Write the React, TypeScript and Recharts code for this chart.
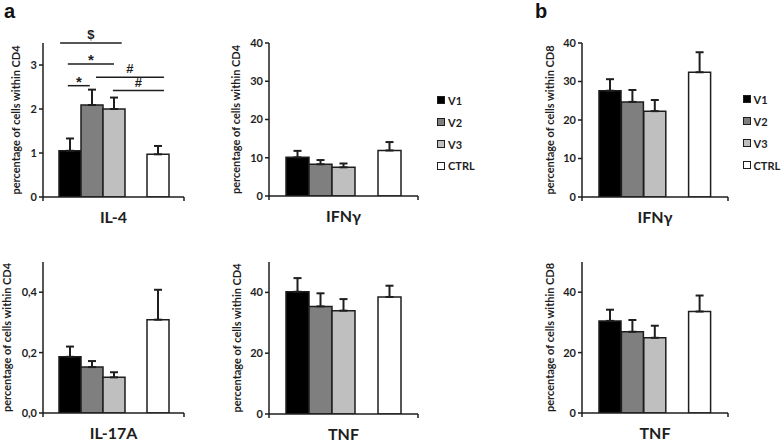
import React from "react";
import { BarChart, Bar, XAxis, YAxis, Cell, ErrorBar, ReferenceLine } from "recharts";

// ---------- data ----------
const groups = ["V1", "V2", "V3", "-", "CTRL"]; // "-" is the empty slot before CTRL
const legendGroups = ["V1", "V2", "V3", "CTRL"];

const il4Values = [1.05, 2.09, 2.0, null, 0.97];
const il4Errors = [0.28, 0.35, 0.26, null, 0.19];
const il4Ticks = [0, 1, 2, 3];

const ifngCd4Values = [10.1, 8.3, 7.5, null, 11.9];
const ifngCd4Errors = [1.7, 1.1, 1.0, null, 2.2];
const ifngTicks = [0, 10, 20, 30, 40];

const il17aValues = [0.186, 0.152, 0.118, null, 0.309];
const il17aErrors = [0.034, 0.02, 0.017, null, 0.099];
const il17aTicks = [0, 0.2, 0.4];

const tnfCd4Values = [40.2, 35.4, 34.0, null, 38.5];
const tnfCd4Errors = [4.5, 4.3, 3.8, null, 3.7];
const tnfTicks = [0, 20, 40];

const ifngCd8Values = [27.6, 24.7, 22.3, null, 32.4];
const ifngCd8Errors = [3.0, 3.1, 2.9, null, 5.2];

const tnfCd8Values = [30.5, 26.9, 24.9, null, 33.6];
const tnfCd8Errors = [3.7, 3.9, 4.0, null, 5.3];

// significance brackets for IL-4 (x in bar-slot units, y in data units)
const il4Brackets = [
  { label: "$", from: 0.05, to: 2.85, y: 3.5 },
  { label: "*", from: 0.4, to: 2.5, y: 3.02 },
  { label: "*", from: 0.4, to: 1.4, y: 2.53 },
  { label: "#", from: 1.68, to: 4.77, y: 2.72 },
  { label: "#", from: 2.45, to: 4.77, y: 2.42 },
];

// ---------- styles ----------
const groupFills: Record<string, string> = {
  V1: "#000000",
  V2: "#7f7f7f",
  V3: "#bfbfbf",
  "-": "#ffffff",
  CTRL: "#ffffff",
};
const symbolStyle: Record<string, { size: number; offset: number }> = {
  $: { size: 13, offset: 4 },
  "*": { size: 15, offset: -1 },
  "#": { size: 13, offset: 4 },
};
const INK = "#1e1e1e";
const FONT = "Lato, 'Liberation Sans', sans-serif";

type Geo = {
  boxLeft: number;
  boxTop: number;
  boxRight: number;
  boxBottom: number;
  axisX: number;
  axisRight: number;
  plotTop: number;
  baseline: number;
  padL: number;
  padR: number;
  labelX: number;
};

type PanelProps = {
  geo: Geo;
  values: (number | null)[];
  errors: (number | null)[];
  ticks: number[];
  domain: [number, number];
  yLabel: string;
  xLabel: string;
  comma?: boolean;
  brackets?: { label: string; from: number; to: number; y: number }[];
};

function Panel({ geo, values, errors, ticks, domain, yLabel, xLabel, comma, brackets }: PanelProps) {
  const width = geo.boxRight - geo.boxLeft;
  const height = geo.boxBottom - geo.boxTop;
  const slot = (geo.axisRight - geo.axisX - geo.padL - geo.padR) / groups.length;
  const numDomain: [number, number] = [-geo.padL / slot, groups.length + geo.padR / slot];
  const rows = groups.map((g, i) => ({
    group: g,
    pos: i + 0.5,
    value: values[i] == null ? undefined : values[i],
    err: errors[i] == null ? undefined : [0, errors[i]],
  }));
  const fmt = (v: number) => (comma ? v.toFixed(1).replace(".", ",") : String(v));
  return (
    <div style={{ position: "absolute", left: geo.boxLeft, top: geo.boxTop, width, height }}>
      <BarChart
        width={width}
        height={height}
        data={rows}
        margin={{ top: geo.plotTop - geo.boxTop, right: geo.boxRight - geo.axisRight, bottom: 0, left: 0 }}
        barCategoryGap={0}
        barGap={0}
      >
        <XAxis
          xAxisId="num"
          dataKey="pos"
          type="number"
          domain={numDomain}
          allowDataOverflow
          ticks={numDomain}
          tickFormatter={() => ""}
          height={geo.boxBottom - geo.baseline}
          axisLine={{ stroke: INK, strokeWidth: 1.5 }}
          tickLine={{ stroke: INK, strokeWidth: 1.5 }}
          tickSize={4}
          label={{
            value: xLabel,
            position: "insideTop",
            offset: 15,
            style: { fontSize: 16, fontWeight: 700, fill: INK, fontFamily: FONT },
          }}
        />
        <XAxis xAxisId="cat" dataKey="group" type="category" hide height={0} padding={{ left: geo.padL, right: geo.padR }} />
        <YAxis
          width={geo.axisX - geo.boxLeft}
          domain={domain}
          allowDataOverflow
          ticks={ticks}
          interval={0}
          tickFormatter={fmt}
          tick={{ fill: INK, fontSize: 11, fontWeight: 700, fontFamily: FONT }}
          axisLine={{ stroke: INK, strokeWidth: 1.5 }}
          tickLine={{ stroke: INK, strokeWidth: 1.5 }}
          tickSize={4}
          label={{
            value: yLabel,
            angle: -90,
            position: "insideLeft",
            offset: geo.labelX,
            style: { textAnchor: "middle", fontSize: 11, fontWeight: 700, fill: INK, fontFamily: FONT },
          }}
        />
        <Bar xAxisId="cat" dataKey="value" isAnimationActive={false} stroke={INK} strokeWidth={1.5}>
          {rows.map((r, i) => (
            <Cell key={i} fill={groupFills[r.group]} />
          ))}
          <ErrorBar dataKey="err" width={4} stroke={INK} strokeWidth={2} isAnimationActive={false} />
        </Bar>
        {(brackets || []).map((b, i) => (
          <ReferenceLine
            key={i}
            xAxisId="num"
            segment={[
              { x: b.from, y: b.y },
              { x: b.to, y: b.y },
            ]}
            stroke={INK}
            strokeWidth={1.5}
            ifOverflow="visible"
            label={{
              value: b.label,
              position: "top",
              offset: symbolStyle[b.label].offset,
              style: {
                fontSize: symbolStyle[b.label].size,
                fontWeight: 700,
                fill: INK,
                fontFamily: "'Liberation Sans', Arial, sans-serif",
              },
            }}
          />
        ))}
      </BarChart>
    </div>
  );
}

function GroupLegend({ left, top }: { left: number; top: number }) {
  return (
    <div style={{ position: "absolute", left, top, fontFamily: FONT, fontWeight: 700, fontSize: 11, color: INK }}>
      {legendGroups.map((g) => (
        <div key={g} style={{ height: 21.9, display: "flex", alignItems: "center" }}>
          <div
            style={{
              width: 6,
              height: 6,
              border: `1px solid ${INK}`,
              background: groupFills[g],
              marginRight: 3,
            }}
          />
          <span>{g}</span>
        </div>
      ))}
    </div>
  );
}

const geoIl4: Geo = { boxLeft: 0, boxTop: 24, boxRight: 192, boxBottom: 240, axisX: 43, axisRight: 184, plotTop: 43, baseline: 197, padL: 16, padR: 15, labelX: 16 };
const geoIfngCd4: Geo = { boxLeft: 215, boxTop: 24, boxRight: 425, boxBottom: 240, axisX: 269, axisRight: 418, plotTop: 43, baseline: 196, padL: 17, padR: 17, labelX: 21 };
const geoIl17a: Geo = { boxLeft: 0, boxTop: 250, boxRight: 192, boxBottom: 446, axisX: 43, axisRight: 184, plotTop: 262, baseline: 413, padL: 16, padR: 15, labelX: 7 };
const geoTnfCd4: Geo = { boxLeft: 215, boxTop: 250, boxRight: 425, boxBottom: 446, axisX: 269, axisRight: 418, plotTop: 262, baseline: 414, padL: 17, padR: 17, labelX: 22 };
const geoIfngCd8: Geo = { boxLeft: 530, boxTop: 24, boxRight: 735, boxBottom: 240, axisX: 582, axisRight: 728, plotTop: 43, baseline: 197, padL: 17, padR: 17, labelX: 20 };
const geoTnfCd8: Geo = { boxLeft: 530, boxTop: 250, boxRight: 735, boxBottom: 446, axisX: 582, axisRight: 728, plotTop: 262, baseline: 413, padL: 17, padR: 17, labelX: 20 };

export default function App() {
  return (
    <div style={{ position: "absolute", left: 0, top: 0, width: 784, height: 446, background: "#fff", overflow: "hidden", fontFamily: FONT }}>
      <div style={{ position: "absolute", left: 4, top: 1, fontFamily: "'Liberation Sans', Arial, sans-serif", fontWeight: 700, fontSize: 20, lineHeight: "20px", color: "#111" }}>a</div>
      <div style={{ position: "absolute", left: 535, top: 1, fontFamily: "'Liberation Sans', Arial, sans-serif", fontWeight: 700, fontSize: 20, lineHeight: "20px", color: "#111" }}>b</div>

      <Panel geo={geoIl4} values={il4Values} errors={il4Errors} ticks={il4Ticks} domain={[0, 3.5]} yLabel="percentage of cells within CD4" xLabel="IL-4" brackets={il4Brackets} />
      <Panel geo={geoIfngCd4} values={ifngCd4Values} errors={ifngCd4Errors} ticks={ifngTicks} domain={[0, 40]} yLabel="percentage of cells within CD4" xLabel="IFNγ" />
      <Panel geo={geoIl17a} values={il17aValues} errors={il17aErrors} ticks={il17aTicks} domain={[0, 0.5]} yLabel="percentage of cells within CD4" xLabel="IL-17A" comma />
      <Panel geo={geoTnfCd4} values={tnfCd4Values} errors={tnfCd4Errors} ticks={tnfTicks} domain={[0, 50]} yLabel="percentage of cells within CD4" xLabel="TNF" />
      <Panel geo={geoIfngCd8} values={ifngCd8Values} errors={ifngCd8Errors} ticks={ifngTicks} domain={[0, 40]} yLabel="percentage of cells within CD8" xLabel="IFNγ" />
      <Panel geo={geoTnfCd8} values={tnfCd8Values} errors={tnfCd8Errors} ticks={tnfTicks} domain={[0, 50]} yLabel="percentage of cells within CD8" xLabel="TNF" />

      <GroupLegend left={437} top={89.3} />
      <GroupLegend left={742.5} top={88.4} />
    </div>
  );
}
